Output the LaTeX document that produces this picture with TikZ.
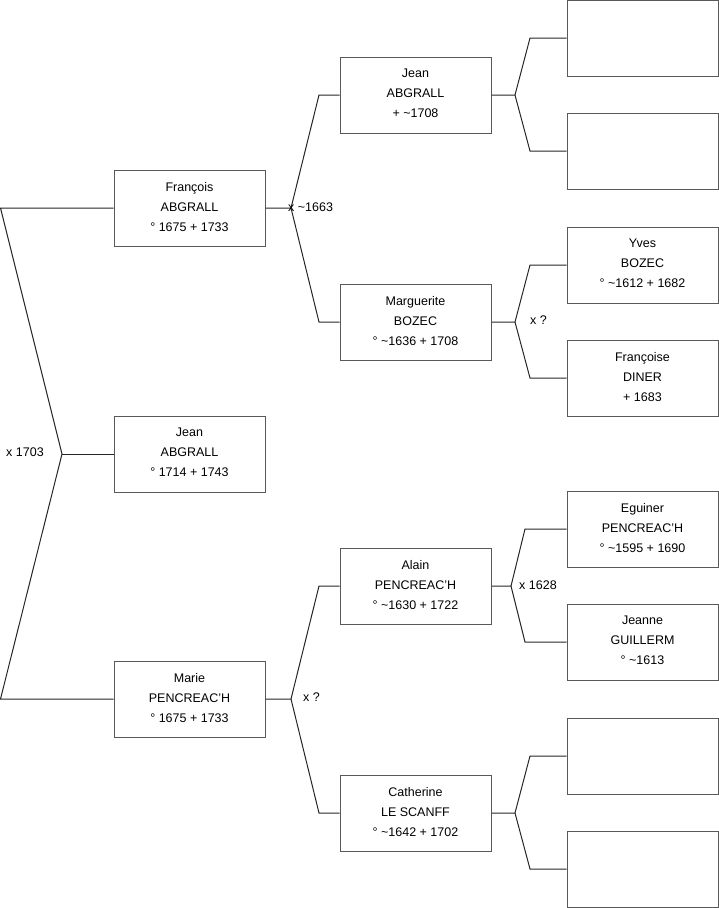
\documentclass[tikz,border=0pt]{standalone}
\usepackage{fontspec}
\setmainfont{Liberation Sans}
\begin{document}
\begin{tikzpicture}[x=1pt,y=-1pt,
  person/.style={draw=black!65,line width=1pt,fill=white,minimum width=151pt,minimum height=76pt,
    inner sep=0pt,text depth=3pt,align=center,font=\fontsize{12.5}{20}\selectfont},
  link/.style={draw=black!85,line width=1pt},
  lbl/.style={font=\fontsize{12.5}{14}\selectfont,inner sep=0pt}]
\useasboundingbox (0,0) rectangle (719,908);
% left column
\node[person] (f) at (189.5,208) {François\\ABGRALL\\° 1675 + 1733};
\node[person] (j) at (189.5,454) {Jean\\ABGRALL\\° 1714 + 1743};
\node[person] (m) at (189.5,699) {Marie\\PENCREAC'H\\° 1675 + 1733};
% middle column
\node[person] (ja) at (415.5,95) {Jean\\ABGRALL\\+ \textasciitilde1708};
\node[person] (mb) at (415.5,322) {Marguerite\\BOZEC\\° \textasciitilde1636 + 1708};
\node[person] (al) at (415.5,586) {Alain\\PENCREAC'H\\° \textasciitilde1630 + 1722};
\node[person] (ca) at (415.5,813) {Catherine\\LE SCANFF\\° \textasciitilde1642 + 1702};
% right column
\node[person] (e1) at (642.5,38) {};
\node[person] (e2) at (642.5,151) {};
\node[person] (yv) at (642.5,265) {Yves\\BOZEC\\° \textasciitilde1612 + 1682};
\node[person] (fd) at (642.5,378) {Françoise\\DINER\\+ 1683};
\node[person] (eg) at (642.5,529) {Eguiner\\PENCREAC'H\\° \textasciitilde1595 + 1690};
\node[person] (jg) at (642.5,642) {Jeanne\\GUILLERM\\° \textasciitilde1613};
\node[person] (e3) at (642.5,756) {};
\node[person] (e4) at (642.5,869) {};
% fork points
\coordinate (L1) at (0.5,208);
\coordinate (L0) at (62,454);
\coordinate (L2) at (0.5,699);
\coordinate (F0) at (291,208);
\coordinate (F1) at (319,95);
\coordinate (F2) at (319,322);
\coordinate (M0) at (291,699);
\coordinate (M1) at (319,586);
\coordinate (M2) at (319,813);
\coordinate (J0) at (515,95);
\coordinate (J1) at (530,38);
\coordinate (J2) at (530,151);
\coordinate (B0) at (515,322);
\coordinate (B1) at (530,265);
\coordinate (B2) at (530,378);
\coordinate (A0) at (511,586);
\coordinate (A1) at (525,529);
\coordinate (A2) at (525,642);
\coordinate (C0) at (515,813);
\coordinate (C1) at (530,756);
\coordinate (C2) at (530,869);
% connectors
\draw[link] (f.west) -- (L1) -- (L0) -- (L2) -- (m.west);
\draw[link] (L0) -- (j.west);
\draw[link] (f.east) -- (F0) -- (F1) -- (ja.west);
\draw[link] (F0) -- (F2) -- (mb.west);
\draw[link] (m.east) -- (M0) -- (M1) -- (al.west);
\draw[link] (M0) -- (M2) -- (ca.west);
\draw[link] (ja.east) -- (J0) -- (J1) -- (e1.west);
\draw[link] (J0) -- (J2) -- (e2.west);
\draw[link] (mb.east) -- (B0) -- (B1) -- (yv.west);
\draw[link] (B0) -- (B2) -- (fd.west);
\draw[link] (al.east) -- (A0) -- (A1) -- (eg.west);
\draw[link] (A0) -- (A2) -- (jg.west);
\draw[link] (ca.east) -- (C0) -- (C1) -- (e3.west);
\draw[link] (C0) -- (C2) -- (e4.west);
% labels
\node[lbl,anchor=west] (l1) at (6,452) {x 1703};
\node[lbl,anchor=west] (l2) at (288,207) {x \textasciitilde1663};
\node[lbl,anchor=west] (l3) at (530,320) {x ?};
\node[lbl,anchor=west] (l4) at (303,697) {x ?};
\node[lbl,anchor=west] (l5) at (519,585) {x 1628};
\end{tikzpicture}
\end{document}
